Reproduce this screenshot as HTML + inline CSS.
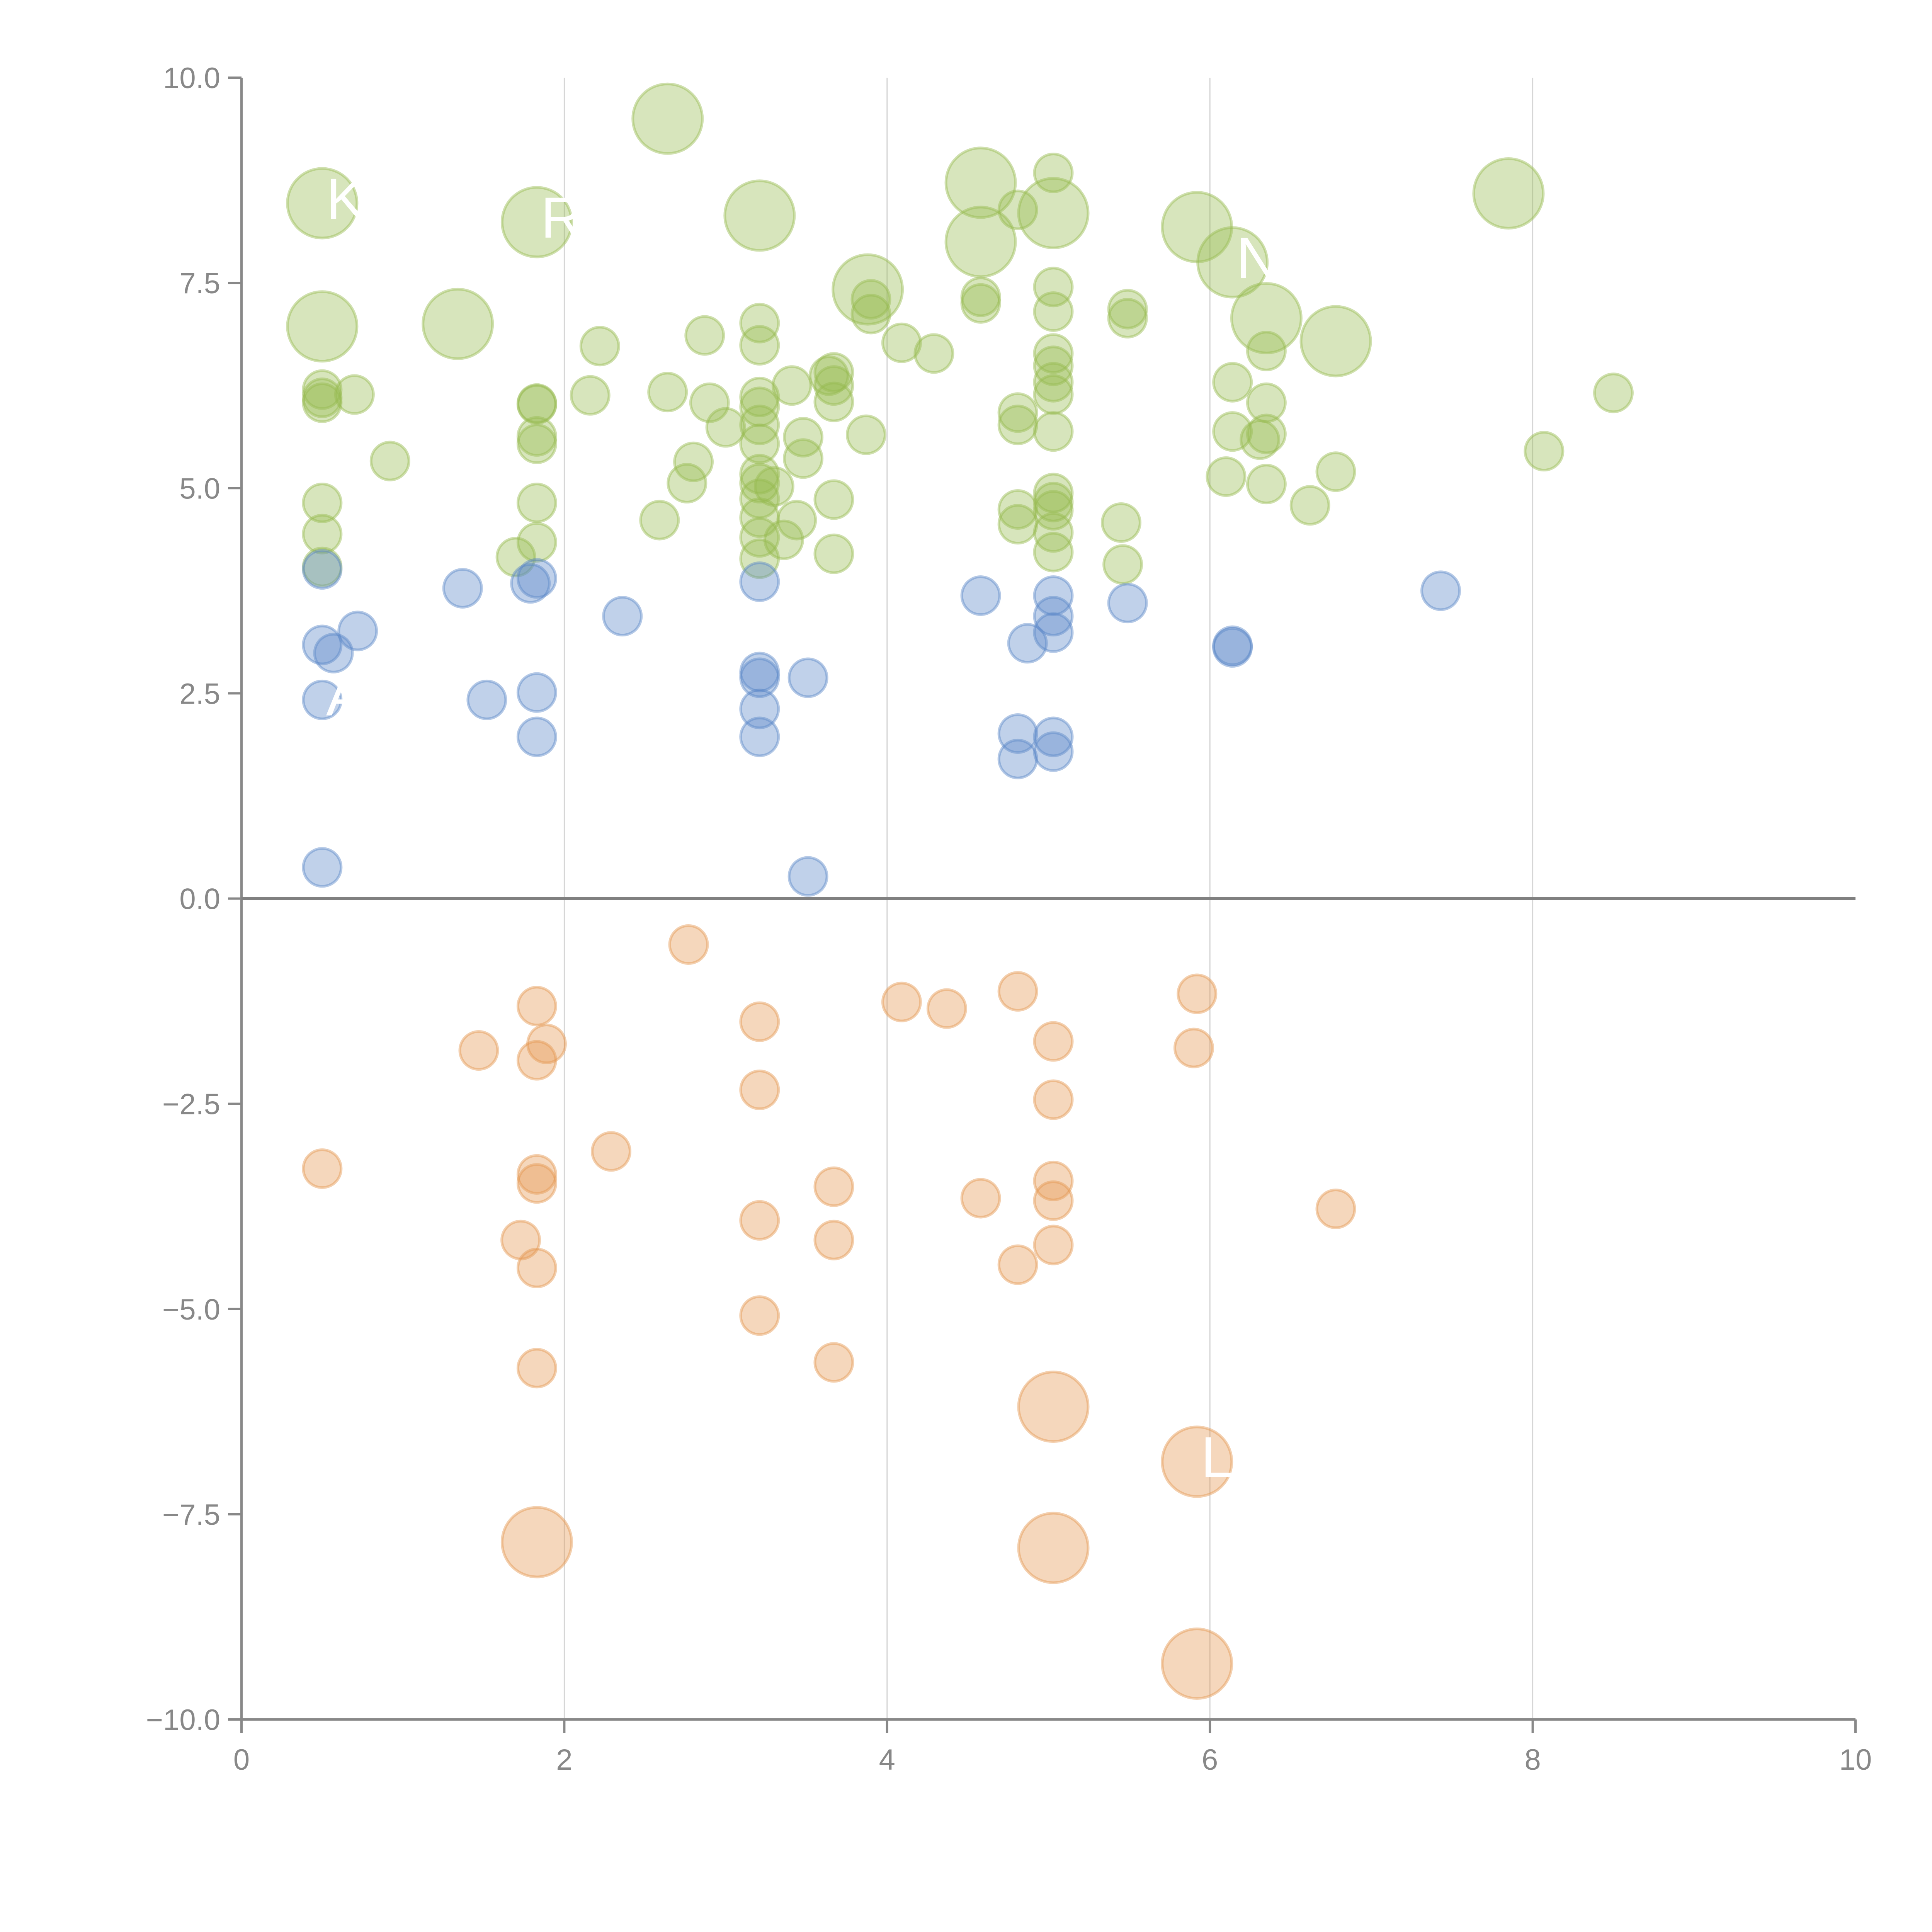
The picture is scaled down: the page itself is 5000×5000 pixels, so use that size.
<!DOCTYPE html>
<html><head><meta charset="utf-8"><style>
html,body{margin:0;padding:0;background:#fff}
svg{display:block}
text{font-family:"Liberation Sans",Arial,sans-serif}
</style></head><body>
<svg id="chart" width="5000" height="5000" viewBox="0 0 5000 5000" xmlns="http://www.w3.org/2000/svg">
<g id="grid"></g>
<g id="marks"></g>
<g id="axes"></g>
<g id="labels"></g>
</svg>
<script>
const greenX=[0.5,1.83,2.64,3.21,4.58,4.58,5.03,5.92,6.14,6.35,6.78,7.85,0.5,1.34,3.88,
0.5,0.5,0.5,0.7,0.92,0.5,0.5,0.5,1.7,1.83,1.83,1.83,1.83,1.83,1.83,2.16,2.22,2.59,2.64,2.76,2.8,2.87,2.9,3.0,3.21,3.21,3.21,3.21,3.21,3.21,3.21,3.21,3.21,3.21,3.21,3.21,3.3,3.36,3.41,3.44,3.48,3.48,3.64,3.67,3.67,3.67,3.67,3.67,3.87,3.9,3.9,4.09,4.29,4.58,4.58,4.81,4.81,4.81,4.81,4.81,5.03,5.03,5.03,5.03,5.03,5.03,5.03,5.03,5.03,5.03,5.03,5.03,5.03,5.45,5.46,5.49,5.49,6.1,6.14,6.14,6.31,6.35,6.35,6.35,6.35,6.62,6.78,8.07,8.5];
const greenY=[8.47,8.24,9.5,8.32,8.72,8.0,8.35,8.18,7.75,7.07,6.79,8.59,6.97,7.0,7.42,
6.2,6.1,6.04,6.14,5.33,4.82,4.44,4.04,4.16,4.34,4.82,5.54,5.63,6.02,6.03,6.13,6.73,4.61,6.17,5.06,5.32,6.86,6.04,5.74,7.01,6.74,6.11,5.99,5.77,5.54,5.17,5.06,4.87,4.64,4.4,4.14,5.02,4.37,6.25,4.61,5.62,5.36,6.37,6.25,6.05,4.86,4.2,6.41,5.65,7.12,7.3,6.77,6.64,7.33,7.25,8.39,5.92,5.77,4.74,4.56,8.84,7.45,7.15,6.64,6.49,6.29,6.14,5.69,4.94,4.83,4.73,4.46,4.22,4.58,4.07,7.18,7.07,5.14,6.29,5.69,5.59,5.66,6.67,6.04,5.05,4.79,5.2,5.45,6.16];
const greenSize=[2,2,2,2,2,2,2,2,2,2,2,2,2,2,2];
const blueX=[0.5,0.5,0.5,0.5,0.57,0.72,1.37,1.52,1.79,1.83,1.83,1.83,2.36,3.21,3.21,3.21,3.21,3.21,3.51,3.51,4.58,4.81,4.81,4.87,5.03,5.03,5.03,5.03,5.03,5.49,6.14,6.14,7.43];
const blueY=[4.01,3.09,2.42,0.38,2.99,3.26,3.78,2.42,3.84,3.9,2.51,1.97,3.44,3.86,2.76,2.69,2.31,1.97,2.69,0.27,3.69,2.01,1.7,3.11,3.69,3.44,3.24,1.97,1.79,3.6,3.08,3.06,3.75];
const orangeX=[1.83,5.03,5.03,5.92,5.92,
0.5,1.47,1.73,1.83,1.83,1.89,1.83,1.83,1.83,1.83,2.29,2.77,3.21,3.21,3.21,3.21,3.67,3.67,3.67,4.09,4.37,4.58,4.81,4.81,5.03,5.03,5.03,5.03,5.03,5.92,5.9,6.78];
const orangeY=[-7.84,-6.19,-7.91,-6.86,-9.32,
-3.29,-1.85,-4.16,-1.31,-1.97,-1.77,-3.36,-3.47,-4.5,-5.72,-3.08,-0.56,-1.5,-2.33,-3.92,-5.08,-3.51,-4.16,-5.65,-1.26,-1.34,-3.65,-1.13,-4.46,-1.74,-2.45,-3.44,-3.68,-4.22,-1.16,-1.82,-3.78];
const orangeSize=[2,2,2,2,2];
const xTicks=[0,2,4,6,8,10];
const yTicks=[10,7.5,5,2.5,0,-2.5,-5,-7.5,-10];
const xTickLabels=["0","2","4","6","8","10"];
const yTickLabels=["10.0","7.5","5.0","2.5","0.0","\u22122.5","\u22125.0","\u22127.5","\u221210.0"];
const labelText=["K","R","NE","A","L"];
const labelX=[0.5,1.83,6.14,0.5,5.92];
const labelY=[8.47,8.24,7.75,2.42,-6.86];

const NS="http://www.w3.org/2000/svg";
const X0=625,X1=4802,Y0=201,Y1=4450;
function sx(v){return X0+(v-0)/(10-0)*(X1-X0);}
function sy(v){return Y1-(v+10)/20*(Y1-Y0);}
function mk(tag,attrs,parent){const e=document.createElementNS(NS,tag);for(const k in attrs)e.setAttribute(k,attrs[k]);parent.appendChild(e);return e;}
const grid=document.getElementById('grid'),marks=document.getElementById('marks'),axes=document.getElementById('axes'),labels=document.getElementById('labels');

xTicks.forEach((t,i)=>{
  if(t>0&&t<10){const g=mk('line',{x1:sx(t),x2:sx(t),y1:Y0,y2:Y1,stroke:'#d4d4d4','stroke-width':3},grid);
  
  }
  const tk=mk('line',{x1:sx(t),x2:sx(t),y1:Y1,y2:Y1+35,stroke:'#888','stroke-width':6},axes);
  
  
  const tx=mk('text',{x:sx(t),y:Y1+130,'text-anchor':'middle','font-size':76,fill:'#888'},axes);
  tx.textContent=xTickLabels[i];
  
  
});
yTicks.forEach((t,i)=>{
  const tk=mk('line',{x1:X0-35,x2:X0,y1:sy(t),y2:sy(t),stroke:'#888','stroke-width':6},axes);
  
  
  const tx=mk('text',{x:X0-55,y:sy(t)+27,'text-anchor':'end','font-size':76,fill:'#888'},axes);
  tx.textContent=yTickLabels[i];
  
  
});
const ya=mk('line',{x1:X0,x2:X0,y1:Y0,y2:Y1,stroke:'#888','stroke-width':6},axes);


const xa=mk('line',{x1:X0,x2:X1,y1:Y1,y2:Y1,stroke:'#888','stroke-width':6},axes);


const zl=mk('line',{x1:X0,x2:X1,y1:sy(0),y2:sy(0),stroke:'#808080','stroke-width':7},axes);



function series(xs,ys,sizes,col,name){
  xs.forEach((x,i)=>{
    const r=(sizes[i]===2)?90:49;
    const c=mk('circle',{cx:sx(x),cy:sy(ys[i]),r:r,fill:'rgba('+col+',0.38)',stroke:'rgba('+col+',0.45)','stroke-width':7},marks);
    
    
  });
}
series(greenX,greenY,greenSize,'151,187,80','bubble-positive');
series(blueX,blueY,[],'90,135,200','bubble-low');
series(orangeX,orangeY,orangeSize,'228,150,80','bubble-negative');

labelText.forEach((s,i)=>{
  const t=mk('text',{x:sx(labelX[i])+10,y:sy(labelY[i])+40,'font-size':150,fill:'#fff'},labels);
  t.textContent=s;
  
  
});
</script>
</body></html>
